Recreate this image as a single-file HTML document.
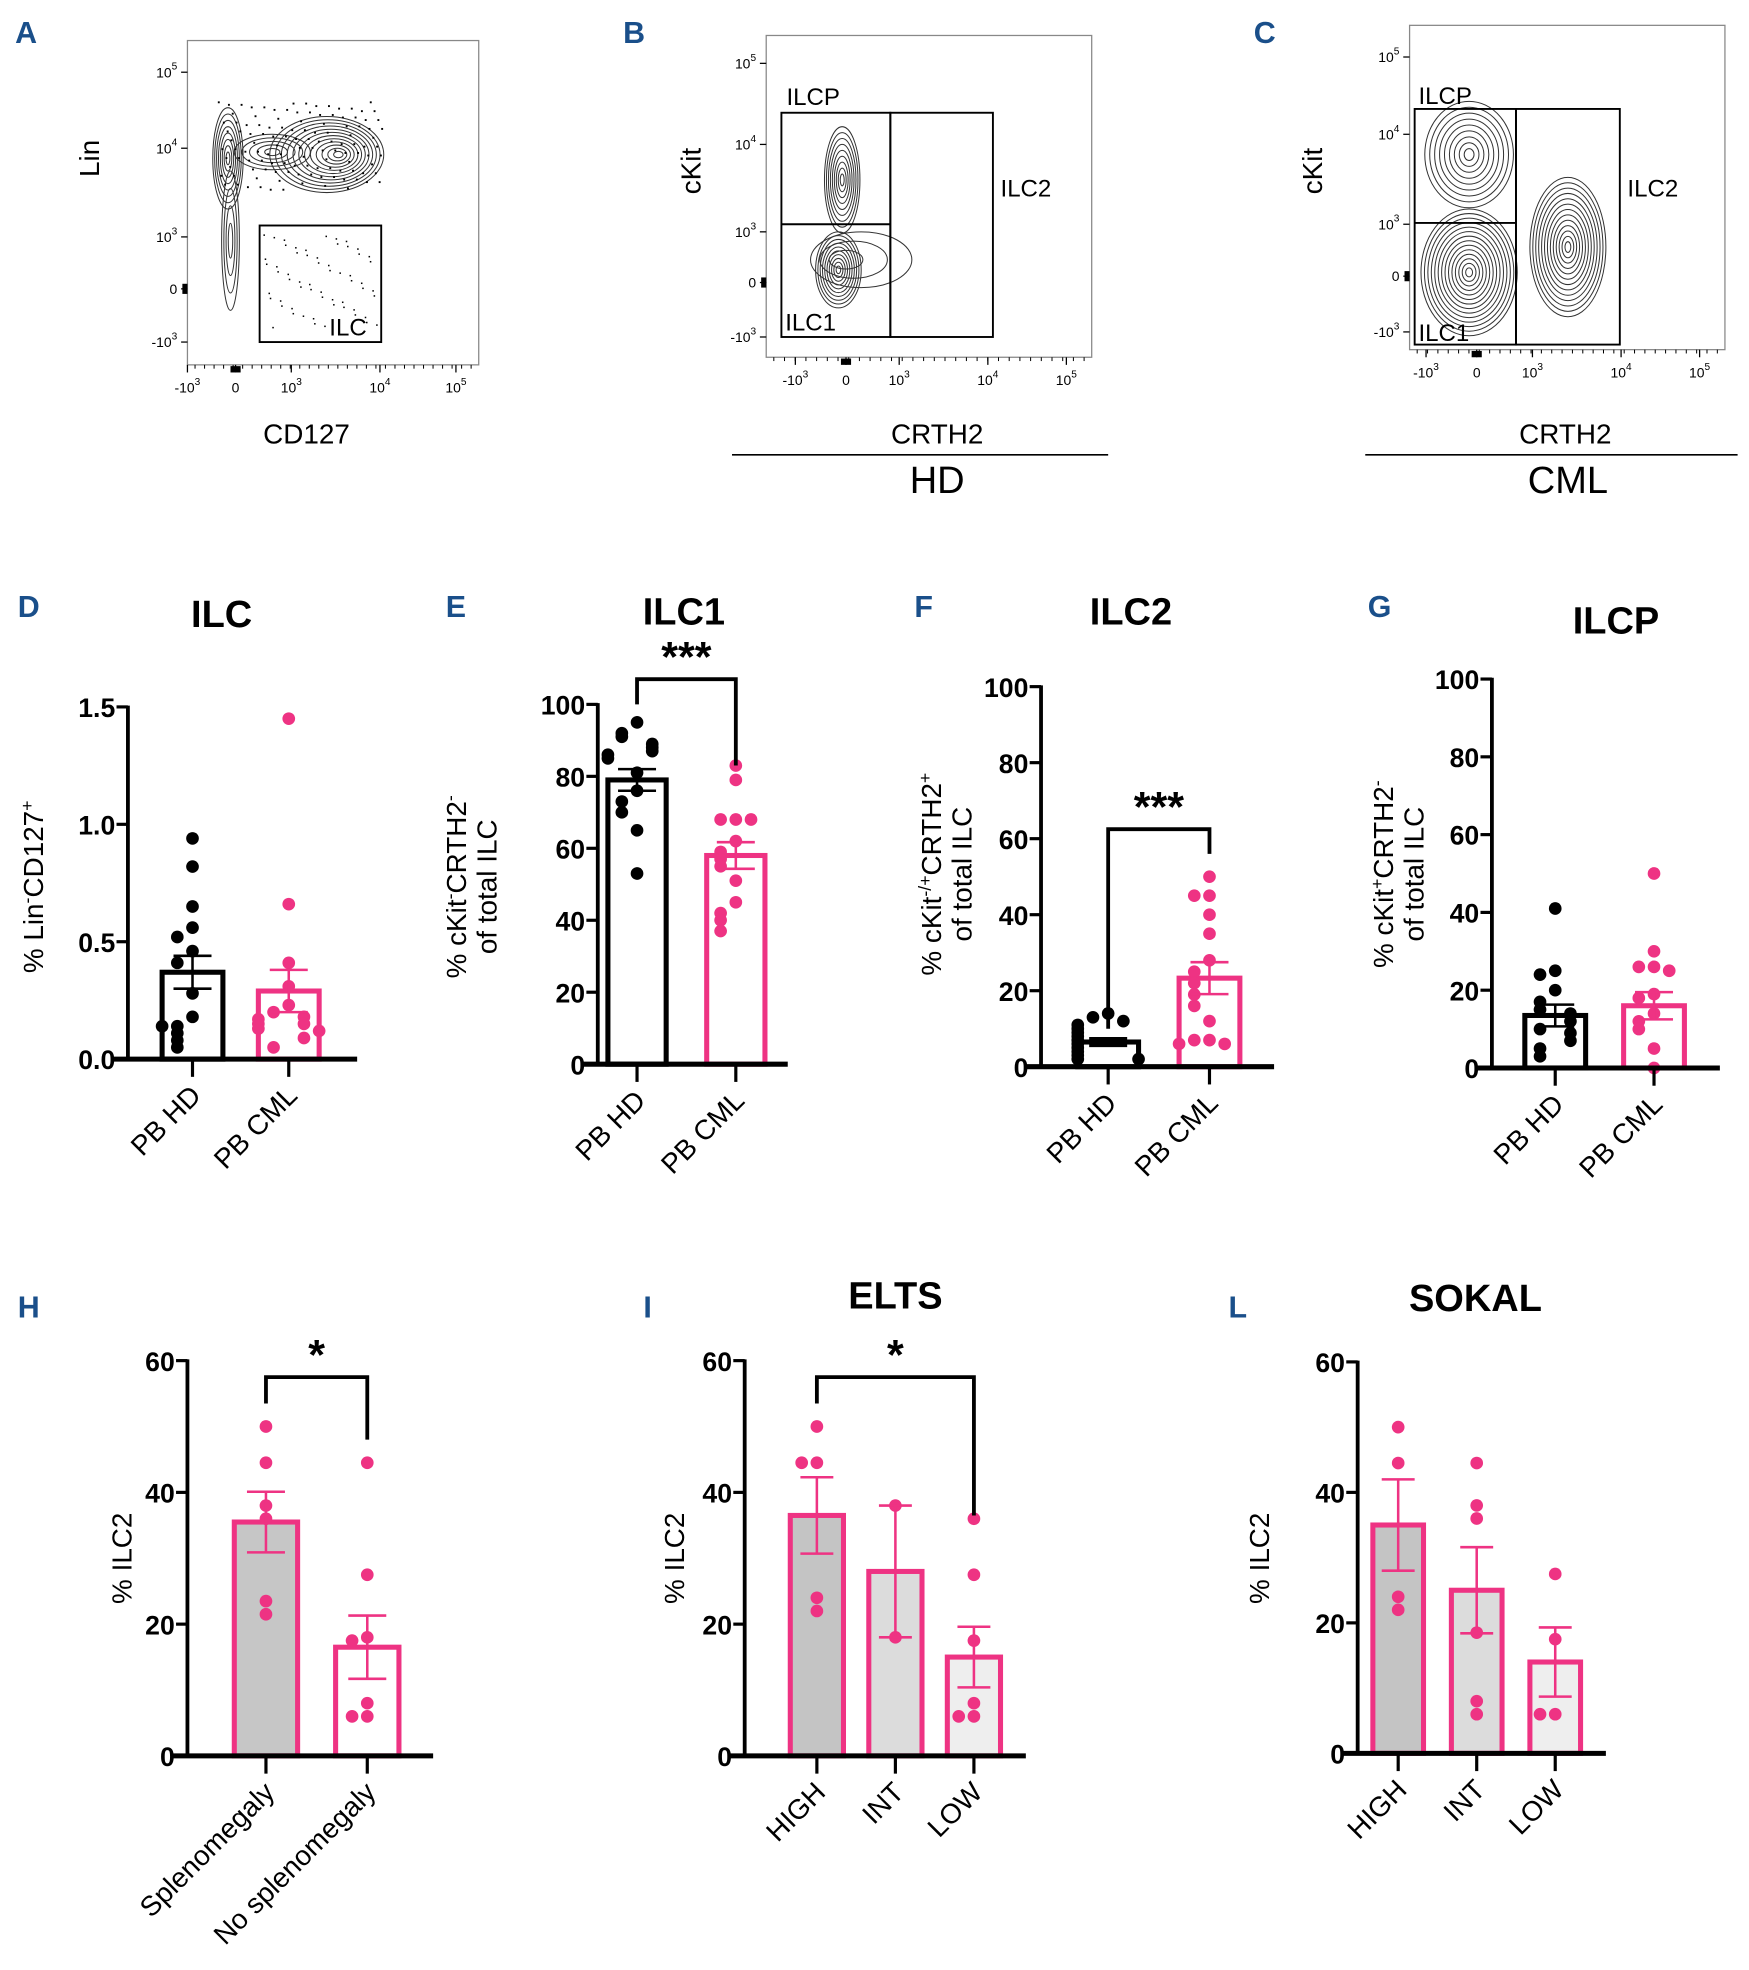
<!DOCTYPE html>
<html><head><meta charset="utf-8">
<style>
html,body{margin:0;padding:0;background:#fff;}
svg{display:block;font-family:"Liberation Sans",Arial,sans-serif;}
.pl{fill:#1a4f8a;font-weight:bold;font-size:24px;}
.ttl{font-weight:bold;font-size:30px;fill:#000;}
.tk{font-weight:bold;font-size:21px;fill:#000;}
.al{font-size:22px;fill:#000;}
.fl{font-size:11px;fill:#000;}
</style></head>
<body>
<svg id="fig" width="1749" height="1970" viewBox="0 0 1381 1555" preserveAspectRatio="none" xmlns="http://www.w3.org/2000/svg">
</svg>
<script>
// ---------- data ----------
var catsPB = ["PB HD", "PB CML"];
var dMeans = [0.37, 0.29];
var dSem = [0.07, 0.09];
var dHD = [0.94, 0.82, 0.65, 0.56, 0.52, 0.46, 0.41, 0.28, 0.18, 0.14, 0.11, 0.14, 0.08, 0.05];
var dCML = [1.45, 0.66, 0.41, 0.31, 0.23, 0.2, 0.18, 0.15, 0.15, 0.13, 0.17, 0.12, 0.09, 0.05];
var eMeans = [79, 58];
var eSem = [3, 3.7];
var eHD = [95, 92, 91, 89, 88, 87, 86, 85, 81, 76, 73, 70, 65, 53];
var eCML = [83, 79, 68, 68, 68, 62, 59, 57, 55, 51, 45, 42, 40, 37];
var fMeans = [6.5, 23.3];
var fSem = [1, 4.2];
var fHD = [14, 13, 12, 11, 10, 9, 8, 7, 6, 5, 4, 3, 2, 2];
var fCML = [50, 45, 45, 40, 35, 28, 25, 22, 19, 16, 12, 7, 7, 6, 6];
var gMeans = [13.5, 16];
var gSem = [2.8, 3.5];
var gHD = [41, 25, 24, 20, 17, 15, 14, 12, 10, 9, 7, 5, 3];
var gCML = [50, 30, 26, 26, 25, 19, 18, 14, 12, 10, 5, 0];
var catsH = ["Splenomegaly", "No splenomegaly"];
var hMeans = [35.5, 16.5];
var hSem = [4.6, 4.8];
var hS = [50, 44.5, 38, 36, 23.5, 21.5];
var hN = [44.5, 27.5, 18, 17.5, 8, 6, 6];
var catsRisk = ["HIGH", "INT", "LOW"];
var iMeans = [36.5, 28, 15];
var iSem = [5.8, 10, 4.6];
var iHigh = [50, 44.5, 44.5, 24, 22];
var iInt = [38, 18];
var iLow = [36, 27.5, 17.5, 8, 6, 6];
var lMeans = [35, 25, 14];
var lSem = [7, 6.6, 5.3];
var lHigh = [50, 44.5, 24, 22];
var lInt = [44.5, 38, 36, 18.5, 8, 6];
var lLow = [27.5, 17.5, 6, 6];
// ---------- helpers ----------
var NS = "http://www.w3.org/2000/svg";
var fig = document.getElementById('fig');
var PINK = "#ee3383";
function mk(tag, attrs, parent, txt) {
  var e = document.createElementNS(NS, tag);
  for (var k in attrs) e.setAttribute(k, attrs[k]);
  if (txt !== undefined) e.textContent = txt;
  (parent || fig).appendChild(e);
  return e;
}
function grp(name) {
  var g = mk('g', {});
  
  
  return g;
}
function label(t, x, y, name) {
  var e = mk('text', {x: x, y: y, 'class': 'pl'}, fig, t);
  
  
}
// Bar chart with dots
function barChart(o) {
  var g = grp(o.name);
  var y = function (v) { return o.y0 - (v - o.ymin) / (o.ymax - o.ymin) * (o.y0 - o.y1); };
  var x = function (i) { return o.cx0 + i * o.dx; };
  // title
  if (o.title) {
    var t = mk('text', {x: o.tx, y: o.ty, 'class': 'ttl', 'text-anchor': 'middle'}, g, o.title);
    
    
  }
  // bars
  for (var i = 0; i < o.means.length; i++) {
    var col = o.colors[i];
    var b = mk('rect', {x: x(i) - o.bw / 2, y: y(o.means[i]), width: o.bw, height: o.y0 - y(o.means[i]), fill: o.fills[i], stroke: col, 'stroke-width': o.sw}, g);
    
    
  }
  // dots
  for (var i = 0; i < o.points.length; i++) {
    var pts = o.points[i];
    var placed = [];
    for (var j = 0; j < pts.length; j++) {
      var py = y(pts[j]);
      var near = placed.filter(function (p) { return Math.abs(p - py) < o.r * 2; }).length;
      placed.push(py);
      var off = near === 0 ? 0 : (near % 2 ? -1 : 1) * Math.ceil(near / 2) * o.r * 2.4;
      if (Math.abs(off) > o.bw / 2) off = (off > 0 ? 1 : -1) * o.bw / 2;
      var c = mk('circle', {cx: x(i) + off, cy: py, r: o.r, fill: o.colors[i]}, g);
      
      
    }
  }
  // error bars
  for (var i = 0; i < o.means.length; i++) {
    var hi = y(o.means[i] + o.sem[i]), lo = y(o.means[i] - o.sem[i]);
    var eb = mk('path', {d: 'M' + x(i) + ' ' + hi + 'V' + lo + 'M' + (x(i) - o.ew) + ' ' + hi + 'H' + (x(i) + o.ew) + 'M' + (x(i) - o.ew) + ' ' + lo + 'H' + (x(i) + o.ew), stroke: o.colors[i], 'stroke-width': 2, fill: 'none'}, g);
    
    
  }
  // axes
  var ya = mk('line', {x1: o.ax, y1: o.y1 - 1, x2: o.ax, y2: o.y0, stroke: '#000', 'stroke-width': 3}, g);
  
  
  var xa = mk('line', {x1: o.ax - 12, y1: o.y0, x2: o.axEnd, y2: o.y0, stroke: '#000', 'stroke-width': 4}, g);
  
  
  for (var k = 0; k < o.ticks.length; k++) {
    var ty = y(o.ticks[k]);
    mk('line', {x1: o.ax - 9, y1: ty, x2: o.ax, y2: ty, stroke: '#000', 'stroke-width': 2.5}, g);
    var tl = mk('text', {x: o.ax - 10, y: ty + 8, 'class': 'tk', 'text-anchor': 'end'}, g, o.tickLabels[k]);
    
    
  }
  for (var i = 0; i < o.cats.length; i++) {
    mk('line', {x1: x(i), y1: o.y0, x2: x(i), y2: o.y0 + 14, stroke: '#000', 'stroke-width': 2.5}, g);
    var cl = mk('text', {x: x(i) + 8, y: o.y0 + 30, 'class': 'al', 'text-anchor': 'end', transform: 'rotate(-45 ' + (x(i) + 8) + ' ' + (o.y0 + 30) + ')'}, g, o.cats[i]);
    
    
  }
  // y label
  var yl = mk('text', {'class': 'al', 'text-anchor': 'middle', transform: 'translate(' + o.ylx + ' ' + o.yly + ') rotate(-90)'}, g);
  
  
  for (var k = 0; k < o.ylab.length; k++) {
    var ts = mk('tspan', {x: 0, dy: k === 0 ? 0 : 24}, yl);
    ts.innerHTML = o.ylab[k];
  }
  // bracket
  if (o.br) {
    var bt = y(o.br.top), a = x(o.br.a), b2 = x(o.br.b);
    var bp = mk('path', {d: 'M' + a + ' ' + y(o.br.la) + 'V' + bt + 'H' + b2 + 'V' + y(o.br.lb), stroke: '#000', 'stroke-width': 3, fill: 'none'}, g);
    
    
    var st = mk('text', {x: (a + b2) / 2, y: bt - 6, 'text-anchor': 'middle', 'font-weight': 'bold', 'font-size': '34px'}, g, o.br.t);
    
    
  }
}

// ---------- panels D-G ----------
label('D', 14, 487, 'panel-label-d');
barChart({name: 'chart-ilc', title: 'ILC', tx: 175, ty: 495, cats: catsPB, means: dMeans, sem: dSem, points: [dHD, dCML],
  ymin: 0, ymax: 1.5, y0: 836, y1: 558, ax: 101, axEnd: 282, cx0: 152, dx: 76, bw: 48, sw: 4, r: 5, ew: 15,
  colors: ['#000', PINK], fills: ['#fff', '#fff'], ticks: [0, 0.5, 1.0, 1.5], tickLabels: ['0.0', '0.5', '1.0', '1.5'],
  ylab: ['% Lin<tspan baseline-shift="super" font-size="14">-</tspan>CD127<tspan baseline-shift="super" font-size="14">+</tspan>'], ylx: 34, yly: 700});
label('E', 352, 487, 'panel-label-e');
barChart({name: 'chart-ilc1', title: 'ILC1', tx: 540, ty: 493, cats: catsPB, means: eMeans, sem: eSem, points: [eHD, eCML],
  ymin: 0, ymax: 100, y0: 840, y1: 556, ax: 472, axEnd: 622, cx0: 503, dx: 78, bw: 46, sw: 4, r: 5, ew: 15,
  colors: ['#000', PINK], fills: ['#fff', '#fff'], ticks: [0, 20, 40, 60, 80, 100], tickLabels: ['0', '20', '40', '60', '80', '100'],
  ylab: ['% cKit<tspan baseline-shift="super" font-size="14">-</tspan>CRTH2<tspan baseline-shift="super" font-size="14">-</tspan>', 'of total ILC'], ylx: 368, yly: 700,
  br: {a: 0, b: 1, top: 107, la: 100, lb: 83, t: '***'}});
label('F', 722, 487, 'panel-label-f');
barChart({name: 'chart-ilc2', title: 'ILC2', tx: 893, ty: 493, cats: catsPB, means: fMeans, sem: fSem, points: [fHD, fCML],
  ymin: 0, ymax: 100, y0: 842, y1: 542, ax: 822, axEnd: 1006, cx0: 875, dx: 80, bw: 48, sw: 4, r: 5, ew: 15,
  colors: ['#000', PINK], fills: ['#fff', '#fff'], ticks: [0, 20, 40, 60, 80, 100], tickLabels: ['0', '20', '40', '60', '80', '100'],
  ylab: ['% cKit<tspan baseline-shift="super" font-size="14">-/+</tspan>CRTH2<tspan baseline-shift="super" font-size="14">+</tspan>', 'of total ILC'], ylx: 743, yly: 690,
  br: {a: 0, b: 1, top: 62.5, la: 10, lb: 56, t: '***'}});
label('G', 1080, 487, 'panel-label-g');
barChart({name: 'chart-ilcp', title: 'ILCP', tx: 1276, ty: 500, cats: catsPB, means: gMeans, sem: gSem, points: [gHD, gCML],
  ymin: 0, ymax: 100, y0: 843, y1: 536, ax: 1178, axEnd: 1358, cx0: 1228, dx: 78, bw: 48, sw: 4, r: 5, ew: 15,
  colors: ['#000', PINK], fills: ['#fff', '#fff'], ticks: [0, 20, 40, 60, 80, 100], tickLabels: ['0', '20', '40', '60', '80', '100'],
  ylab: ['% cKit<tspan baseline-shift="super" font-size="14">+</tspan>CRTH2<tspan baseline-shift="super" font-size="14">-</tspan>', 'of total ILC'], ylx: 1100, yly: 690});

// ---------- panels H, I, L ----------
label('H', 14, 1040, 'panel-label-h');
barChart({name: 'chart-splenomegaly', title: '', cats: catsH, means: hMeans, sem: hSem, points: [hS, hN],
  ymin: 0, ymax: 60, y0: 1386, y1: 1074, ax: 148, axEnd: 342, cx0: 210, dx: 80, bw: 50, sw: 4, r: 5, ew: 15,
  colors: [PINK, PINK], fills: ['#c6c6c6', '#fff'], ticks: [0, 20, 40, 60], tickLabels: ['0', '20', '40', '60'],
  ylab: ['% ILC2'], ylx: 104, yly: 1230, br: {a: 0, b: 1, top: 57.5, la: 53.5, lb: 48, t: '*'}});
label('I', 508, 1040, 'panel-label-i');
barChart({name: 'chart-elts', title: 'ELTS', tx: 707, ty: 1033, cats: catsRisk, means: iMeans, sem: iSem, points: [iHigh, iInt, iLow],
  ymin: 0, ymax: 60, y0: 1386, y1: 1074, ax: 588, axEnd: 810, cx0: 645, dx: 62, bw: 42, sw: 4, r: 5, ew: 13,
  colors: [PINK, PINK, PINK], fills: ['#c4c4c4', '#dcdcdc', '#eeeeee'], ticks: [0, 20, 40, 60], tickLabels: ['0', '20', '40', '60'],
  ylab: ['% ILC2'], ylx: 540, yly: 1230, br: {a: 0, b: 2, top: 57.5, la: 53.5, lb: 36.5, t: '*'}});
label('L', 970, 1040, 'panel-label-l');
barChart({name: 'chart-sokal', title: 'SOKAL', tx: 1165, ty: 1035, cats: catsRisk, means: lMeans, sem: lSem, points: [lHigh, lInt, lLow],
  ymin: 0, ymax: 60, y0: 1384, y1: 1075, ax: 1072, axEnd: 1268, cx0: 1104, dx: 62, bw: 40, sw: 4, r: 5, ew: 13,
  colors: [PINK, PINK, PINK], fills: ['#c4c4c4', '#dcdcdc', '#eeeeee'], ticks: [0, 20, 40, 60], tickLabels: ['0', '20', '40', '60'],
  ylab: ['% ILC2'], ylx: 1002, yly: 1230});

// ---------- flow cytometry panels ----------
function flow(o) {
  var g = grp(o.name);
  var f = mk('rect', {x: o.x0, y: o.y0, width: o.x1 - o.x0, height: o.y1 - o.y0, fill: 'none', stroke: '#888', 'stroke-width': 1}, g);
  
  
  var ylabs = ['10', '10', '10', '0', '-10'], ysup = ['5', '4', '3', '', '3'];
  for (var k = 0; k < 5; k++) {
    var t = mk('text', {x: o.x0 - 8, y: o.yt[k] + 4, 'class': 'fl', 'text-anchor': 'end'}, g);
    t.innerHTML = ylabs[k] + (ysup[k] ? '<tspan dy="-6" font-size="8">' + ysup[k] + '</tspan>' : '');
    
    
    mk('line', {x1: o.x0 - 5, y1: o.yt[k], x2: o.x0, y2: o.yt[k], stroke: '#000'}, g);
  }
  var xl = ['-10', '0', '10', '10', '10'], xs = ['3', '', '3', '4', '5'];
  for (var k = 0; k < 5; k++) {
    var t = mk('text', {x: o.xt[k], y: o.y1 + 22, 'class': 'fl', 'text-anchor': 'middle'}, g);
    t.innerHTML = xl[k] + (xs[k] ? '<tspan dy="-6" font-size="8">' + xs[k] + '</tspan>' : '');
    
    
    mk('line', {x1: o.xt[k], y1: o.y1, x2: o.xt[k], y2: o.y1 + 6, stroke: '#000'}, g);
  }
  for (var k = 0; k < 30; k++) {
    var xx = o.x0 + 6 + k * (o.x1 - o.x0 - 12) / 29;
    mk('line', {x1: xx, y1: o.y1, x2: xx, y2: o.y1 + 3, stroke: '#000', 'stroke-width': 0.8}, g);
  }
  mk('rect', {x: o.xt[1] - 4, y: o.y1 + 1, width: 8, height: 5, fill: '#000'}, g);
  mk('rect', {x: o.x0 - 4, y: o.yt[3] - 4, width: 4, height: 8, fill: '#000'}, g);
  var yt = mk('text', {'class': 'al', 'text-anchor': 'middle', transform: 'translate(' + o.ylx + ' ' + o.yly + ') rotate(-90)'}, g, o.ylab);
  
  
  var xt = mk('text', {x: o.xlx, y: 350, 'class': 'al', 'text-anchor': 'middle'}, g, o.xlab);
  
  
  // contours
  o.blobs.forEach(function (b) {
    for (var k = 1; k <= b.n; k++) {
      var s = k / b.n;
      mk('ellipse', {cx: b.cx + (1 - s) * (b.sx || 0), cy: b.cy + (1 - s) * (b.sy || 0), rx: b.rx * s, ry: b.ry * s, fill: 'none', stroke: '#333', 'stroke-width': 0.8}, g);
    }
  });
  return g;
}
label('A', 12, 34, 'panel-label-a');
var gA = flow({name: 'flow-plot-lin-cd127', x0: 148, y0: 32, x1: 378, y1: 288, yt: [57, 117, 187, 228, 270], xt: [148, 186, 230, 300, 360],
  ylab: 'Lin', ylx: 78, yly: 125, xlab: 'CD127', xlx: 242,
  blobs: [{cx: 180, cy: 125, rx: 12, ry: 40, n: 8}, {cx: 182, cy: 190, rx: 7, ry: 55, n: 4}, {cx: 258, cy: 122, rx: 45, ry: 30, n: 12, sx: 10}, {cx: 215, cy: 120, rx: 30, ry: 14, n: 5}]});
for (var k = 0; k < 120; k++) {
  var px = 172 + ((k * 37) % 130), py = 80 + ((k * 53) % 70);
  mk('rect', {x: px, y: py, width: 1.5, height: 1.5, fill: '#000'}, gA);
}
for (var k = 0; k < 60; k++) {
  var px = 208 + ((k * 29) % 90), py = 185 + ((k * 41) % 75);
  mk('rect', {x: px, y: py, width: 1.2, height: 1.2, fill: '#000'}, gA);
}
var gateA = mk('rect', {x: 205, y: 178, width: 96, height: 92, fill: 'none', stroke: '#000', 'stroke-width': 1.5}, gA);


mk('text', {x: 260, y: 265, 'font-size': '19px'}, gA, 'ILC');

label('B', 492, 34, 'panel-label-b');
var gB = flow({name: 'flow-plot-hd', x0: 605, y0: 28, x1: 862, y1: 282, yt: [50, 114, 183, 223, 266], xt: [628, 668, 710, 780, 842],
  ylab: 'cKit', ylx: 553, yly: 135, xlab: 'CRTH2', xlx: 740,
  blobs: [{cx: 665, cy: 142, rx: 14, ry: 42, n: 9}, {cx: 662, cy: 213, rx: 18, ry: 30, n: 10}, {cx: 680, cy: 205, rx: 40, ry: 22, n: 3, sx: -18}]});
mk('rect', {x: 617, y: 89, width: 86, height: 177, fill: 'none', stroke: '#000', 'stroke-width': 1.5}, gB);
mk('line', {x1: 617, y1: 177, x2: 703, y2: 177, stroke: '#000', 'stroke-width': 1.5}, gB);
mk('rect', {x: 703, y: 89, width: 81, height: 177, fill: 'none', stroke: '#000', 'stroke-width': 1.5}, gB);
mk('text', {x: 621, y: 83, 'font-size': '19px'}, gB, 'ILCP');
mk('text', {x: 790, y: 155, 'font-size': '19px'}, gB, 'ILC2');
mk('text', {x: 620, y: 261, 'font-size': '19px'}, gB, 'ILC1');
mk('line', {x1: 578, y1: 359, x2: 875, y2: 359, stroke: '#000', 'stroke-width': 1.2}, gB);
mk('text', {x: 740, y: 389, 'font-size': '30px', 'text-anchor': 'middle'}, gB, 'HD');

label('C', 990, 34, 'panel-label-c');
var gC = flow({name: 'flow-plot-cml', x0: 1113, y0: 20, x1: 1362, y1: 276, yt: [45, 106, 177, 218, 262], xt: [1126, 1166, 1210, 1280, 1342],
  ylab: 'cKit', ylx: 1044, yly: 135, xlab: 'CRTH2', xlx: 1236,
  blobs: [{cx: 1160, cy: 122, rx: 35, ry: 42, n: 9}, {cx: 1160, cy: 215, rx: 38, ry: 50, n: 14}, {cx: 1238, cy: 195, rx: 30, ry: 55, n: 13}]});
mk('rect', {x: 1117, y: 86, width: 80, height: 186, fill: 'none', stroke: '#000', 'stroke-width': 1.5}, gC);
mk('line', {x1: 1117, y1: 176, x2: 1197, y2: 176, stroke: '#000', 'stroke-width': 1.5}, gC);
mk('rect', {x: 1197, y: 86, width: 82, height: 186, fill: 'none', stroke: '#000', 'stroke-width': 1.5}, gC);
mk('text', {x: 1120, y: 82, 'font-size': '19px'}, gC, 'ILCP');
mk('text', {x: 1285, y: 155, 'font-size': '19px'}, gC, 'ILC2');
mk('text', {x: 1120, y: 269, 'font-size': '19px'}, gC, 'ILC1');
mk('line', {x1: 1078, y1: 359, x2: 1372, y2: 359, stroke: '#000', 'stroke-width': 1.2}, gC);
mk('text', {x: 1238, y: 389, 'font-size': '30px', 'text-anchor': 'middle'}, gC, 'CML');
</script>
</body></html>
